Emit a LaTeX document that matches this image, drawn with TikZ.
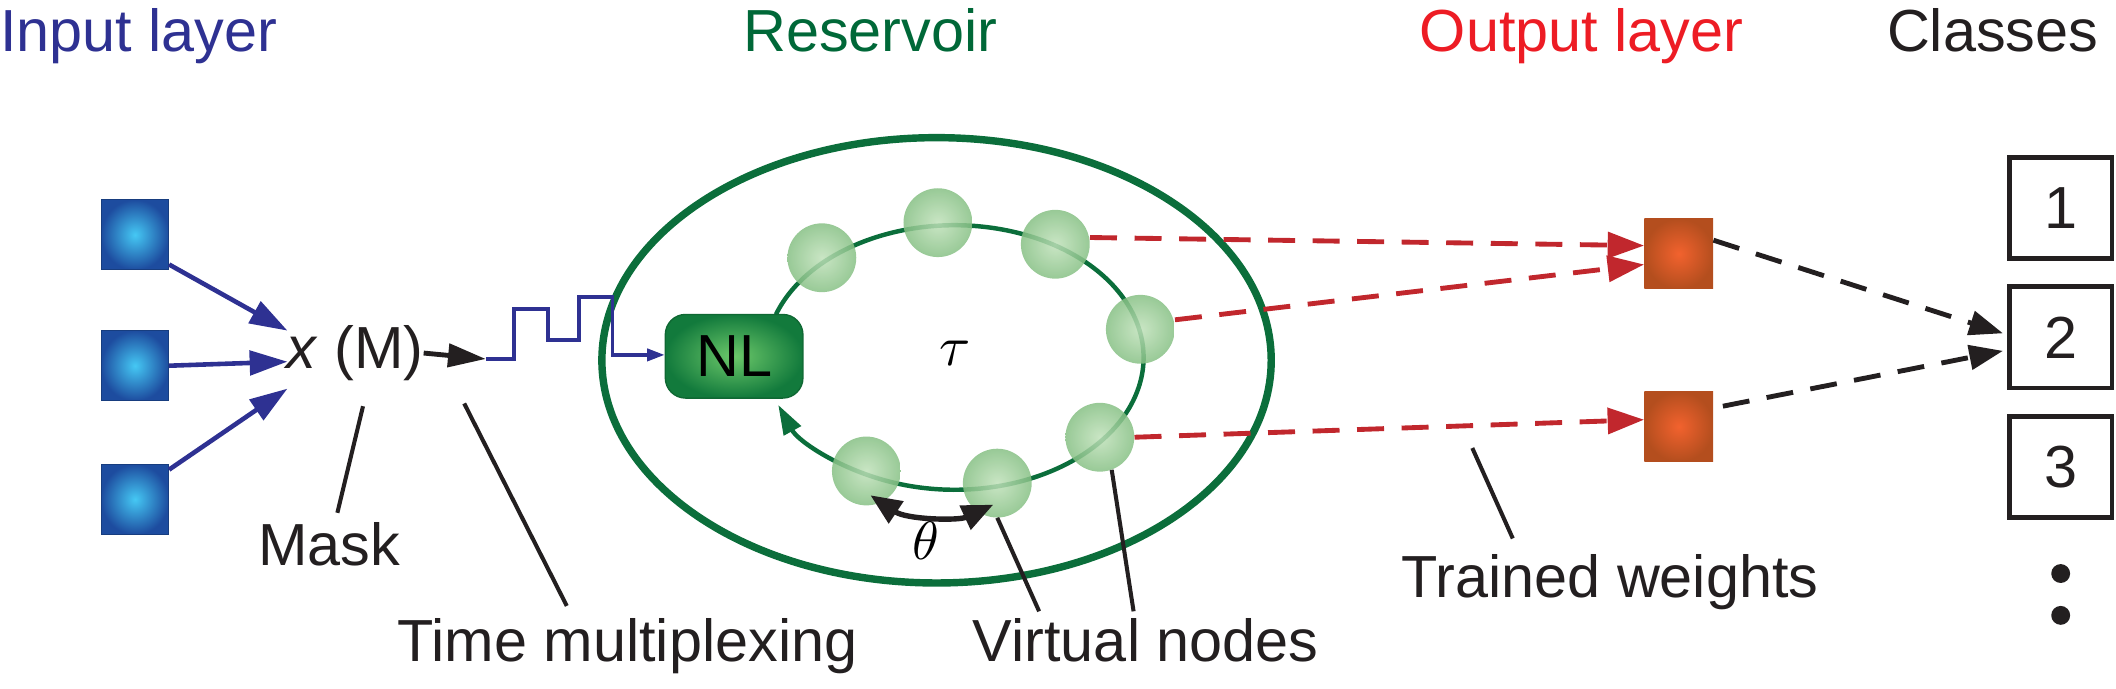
\documentclass[tikz,border=0pt]{standalone}
\usepackage{fontspec}
\usepackage{graphicx}
\setmainfont{Liberation Sans}
\usetikzlibrary{arrows.meta,calc}
\definecolor{tblue}{HTML}{2E3192}
\definecolor{tgreen}{HTML}{006838}
\definecolor{tred}{HTML}{ED1C24}
\definecolor{tblack}{HTML}{231F20}
\definecolor{dred}{HTML}{C1272D}
\definecolor{ringgreen}{HTML}{0B6E3B}
\definecolor{incenter}{HTML}{45C8F4}
\definecolor{inouter}{HTML}{1D4C9F}
\definecolor{outcenter}{HTML}{F2622E}
\definecolor{outouter}{HTML}{B44E1E}
\definecolor{vncenter}{HTML}{C0E1BA}
\definecolor{vnouter}{HTML}{86C084}
\definecolor{nlcenter}{HTML}{6CC86A}
\definecolor{nlouter}{HTML}{127A3C}
\begin{document}
\begin{tikzpicture}[x=1pt,y=1pt,yscale=-1,
  bigfont/.style={font=\fontsize{44}{50}\selectfont},
  lbl/.style={bigfont,inner sep=0pt,text=tblack},
  insq/.style={rectangle,minimum width=50pt,minimum height=52pt,inner sep=0pt,
    inner color=incenter,outer color=inouter,draw=inouter!80!black,line width=0.6pt},
  outsq/.style={rectangle,minimum width=51pt,minimum height=52pt,inner sep=0pt,
    inner color=outcenter,outer color=outouter},
  vnode/.style={circle,minimum size=51pt,inner sep=0pt,
    inner color=vncenter,outer color=vnouter,fill opacity=0.85},
  classbox/.style={rectangle,draw=tblack,line width=3.5pt,minimum width=76pt,minimum height=75pt,
    inner sep=0pt,bigfont,text=tblack},
  bluearrow/.style={draw=tblue,line width=3.4pt,-{Triangle[length=28pt,width=18pt]}},
  redarrow/.style={draw=dred,line width=3.6pt,dash pattern=on 20pt off 13pt,
    -{Triangle[length=27pt,width=19pt]}},
  blkdash/.style={draw=tblack,line width=3.6pt,dash pattern=on 20pt off 13pt,
    -{Triangle[length=25pt,width=18pt]}},
  leader/.style={draw=tblack,line width=3pt}
]
\useasboundingbox (0,0) rectangle (1568,510);

% titles
\node[lbl,text=tblue,anchor=base west] (tin) at (0,38) {Input layer};
\node[lbl,text=tgreen,anchor=base] (tres) at (645,38) {Reservoir};
\node[lbl,text=tred,anchor=base] (tout) at (1172,38) {Output layer};
\node[lbl,anchor=base east] (tcls) at (1555,38) {Classes};

% input squares
\node[insq] (in1) at (100,174) {};
\node[insq] (in2) at (100,271) {};
\node[insq] (in3) at (100,370) {};

% mask node
\node[lbl,anchor=base] (xm) at (263,273) {\textit{x} (M)};
\coordinate (t1) at (213,245);
\coordinate (t2) at (213,268);
\coordinate (t3) at (213,288);
\draw[bluearrow] ($(in1.east)+(0,22)$) -- (t1);
\draw[bluearrow] (in2.east) -- (t2);
\draw[bluearrow] ($(in3.east)+(0,-22)$) -- (t3);

% reservoir rings
\draw[ringgreen,line width=5.5pt] (694,267) ellipse [x radius=248pt, y radius=165pt];
\coordinate (loopstart) at (575,233);
\draw[ringgreen,line width=3.3pt,-{Triangle[length=22pt,width=14pt]}]
  (loopstart) arc[start angle=199,end angle=519,x radius=140pt,y radius=98pt];

% virtual nodes
\node[vnode] (n1) at (609,191) {};
\node[vnode] (n2) at (695,165) {};
\node[vnode] (n3) at (782,181) {};
\node[vnode] (n4) at (845,244) {};
\node[vnode] (n5) at (815,324) {};
\node[vnode] (n6) at (739,358) {};
\node[vnode] (n7) at (642,349) {};

% NL
\node[rectangle,rounded corners=15pt,minimum width=102pt,minimum height=62pt,inner sep=0pt,
  inner color=nlcenter,outer color=nlouter,draw=nlouter!85!black,line width=1pt,
  bigfont,text=black] (nl) at (544,264) {NL};

% time multiplexing wave
\coordinate (w0) at (360,266);
\draw[tblack,line width=3.6pt,-{Triangle[length=28pt,width=17pt]}] (xm.east) -- (w0);
\draw[tblue,line width=2.6pt,-{Triangle[length=13pt,width=9pt]}]
  (w0) -- (381,266) -- (381,229) -- (406,229) -- (406,252) -- (429,252) -- (429,220)
  -- (454,220) -- (454,263) -- (nl.west |- 0,263);

% tau and theta
\node[inner sep=0pt] (tau) at (708,262) {\scalebox{4.2}{$\tau$}};
\coordinate (th1) at (645,367);
\coordinate (th2) at (736,374);
\draw[tblack,line width=4pt,{Triangle[length=23pt,width=19pt]}-{Triangle[length=23pt,width=19pt]}]
  (th1) .. controls (672,385) and (710,386) .. (th2);
\node[inner sep=0pt] (theta) at (686,401) {\scalebox{4}{$\theta$}};

% output squares
\node[outsq] (out1) at (1244,188) {};
\node[outsq] (out2) at (1244,316) {};

\draw[redarrow] ($(n3.east)+(0,-5)$) -- ($(out1.west)+(0,-6)$);
\draw[redarrow] ($(n4.east)+(0,-7)$) -- ($(out1.west)+(0,8)$);
\draw[redarrow] (n5.east) -- ($(out2.west)+(0,-5)$);

% classes
\node[classbox] (c1) at (1527,154) {1};
\node[classbox] (c2) at (1527,250) {2};
\node[classbox] (c3) at (1527,346) {3};
\fill[tblack] (1527,425) circle[radius=7pt] coordinate (d1);
\fill[tblack] (1527,456) circle[radius=7pt] coordinate (d2);

\draw[blkdash] ($(out1.east)+(0,-10)$) -- ($(c2.west)+(-3,-3)$);
\draw[blkdash] ($(out2.east)+(7,-15)$) -- ($(c2.west)+(-3,10)$);

% labels with leaders
\node[lbl,anchor=base] (mask) at (244,419) {Mask};
\node[lbl,anchor=base] (tm) at (465,490) {Time multiplexing};
\node[lbl,anchor=base] (vn) at (849,490) {Virtual nodes};
\node[lbl,anchor=base] (tw) at (1193,443) {Trained weights};

\coordinate (m1) at (269,301);
\coordinate (m2) at (250,380);
\draw[leader] (m1) -- (m2);
\coordinate (tm1) at (344,299);
\coordinate (tm2) at (420,449);
\draw[leader] (tm1) -- (tm2);
\coordinate (vn1) at (770,453);
\coordinate (vn2) at (840,453);
\draw[leader] (n6.south) -- (vn1);
\draw[leader] (n5.-70) -- (vn2);
\coordinate (tw1) at (1091,332);
\coordinate (tw2) at (1121,399);
\draw[leader] (tw1) -- (tw2);
\end{tikzpicture}
\end{document}
